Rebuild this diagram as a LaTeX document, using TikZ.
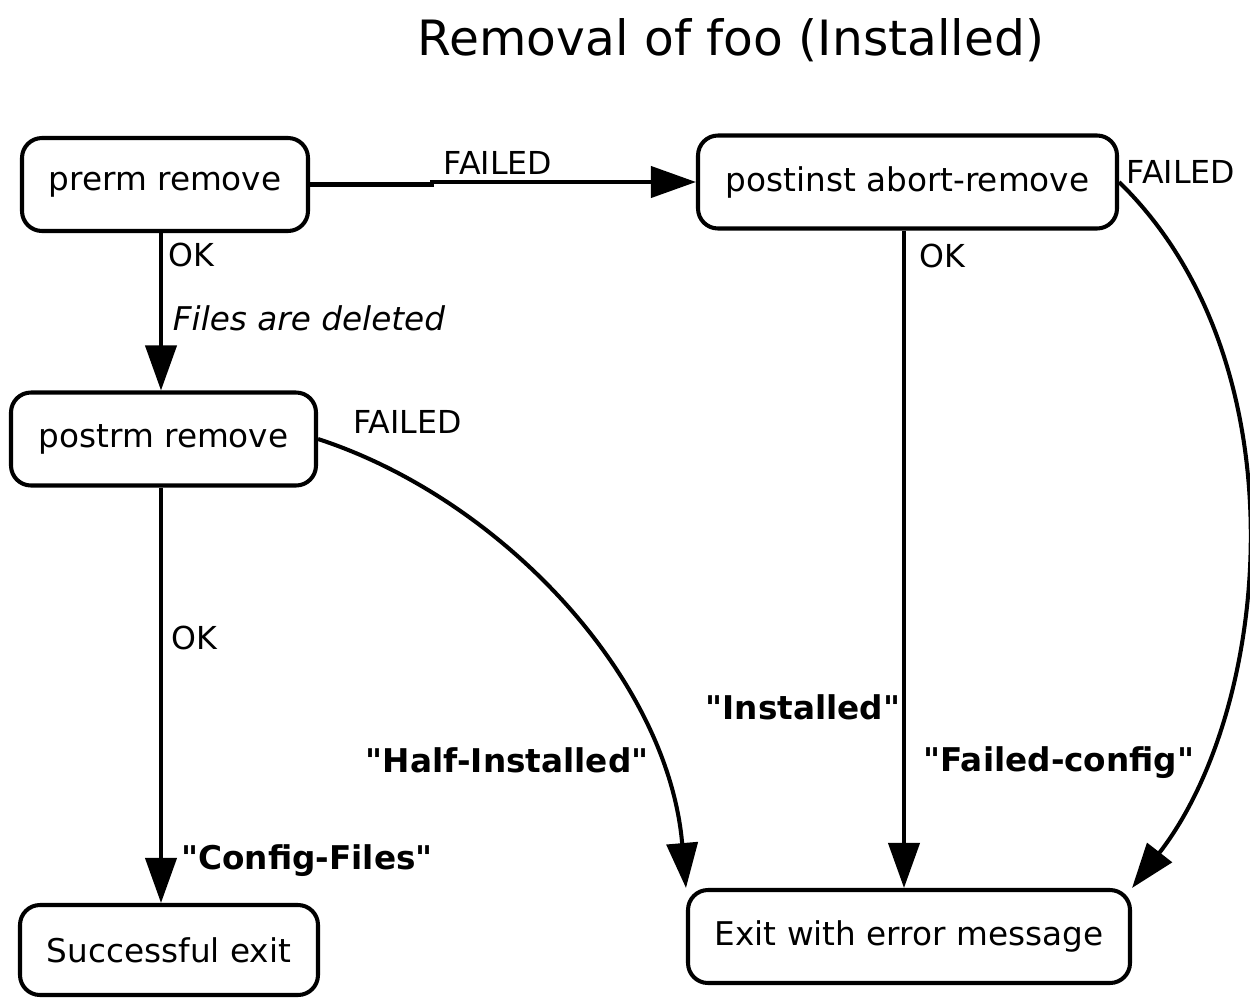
\documentclass[tikz,border=0pt]{standalone}
\usepackage{fontspec}
\setmainfont{DejaVu Sans}[Ligatures=TeXOff]
\usetikzlibrary{arrows.meta,positioning}

\begin{document}
\begin{tikzpicture}[
  state/.style={draw, line width=2.3pt, rounded corners=0.4cm, minimum height=1.86cm,
                font=\fontsize{18.6}{22}\selectfont},
  arr/.style={-{Triangle[length=0.9cm,width=0.62cm]}, line width=2.3pt},
  lbl/.style={font=\fontsize{18}{21}\selectfont},
  stlbl/.style={font=\fontsize{18.6}{22}\selectfont\bfseries}]
  \useasboundingbox (0,0) rectangle (25,-19.94);
  % Title
  \node[font=\fontsize{27.7}{33}\selectfont] (title) at (14.62,-0.8) {Removal of foo (Installed)};
  % States
  \node[state, minimum width=5.72cm] (pm) at (3.30,-3.69) {prerm remove};
  \node[state, minimum width=8.38cm] (pi) at (18.15,-3.64) {postinst abort-remove};
  \node[state, minimum width=6.10cm] (pr) at (3.27,-8.78) {postrm remove};
  \node[state, minimum width=5.96cm, minimum height=1.8cm] (sx) at (3.38,-19.0) {Successful exit};
  \node[state, minimum width=8.84cm] (ex) at (18.18,-18.73) {Exit with error message};
  % prerm remove
  \draw[arr] (pm.east) -- ++(2.44,0) |- (pi.west)
    node[pos=0.625, above, lbl] {FAILED};
  \draw[arr] ([xshift=-0.08cm]pm.south) -- ([xshift=-0.08cm]pm.south |- pr.north)
    node[pos=0.14, right, lbl] {OK}
    node[pos=0.54, right, xshift=0.08cm, lbl, font=\fontsize{18.6}{22}\selectfont\itshape] {Files are deleted};
  % postrm remove
  \draw[arr] ([xshift=-0.05cm]pr.south) -- ([xshift=-0.05cm]pr.south |- sx.north)
    node[pos=0.363, right, xshift=0.05cm, lbl] {OK}
    node[pos=0.897, right, xshift=0.25cm, stlbl] {"Config-Files"};
  \draw[arr] (pr.east) .. controls +(3.68,-1.2) and +(-0.36,4.2) .. (ex.north west)
    node[pos=0.05, anchor=south west, yshift=0.15cm, lbl] {FAILED}
    node[pos=0.79, anchor=east, stlbl] {"Half-Installed"};
  % postinst abort-remove
  \draw[arr] ([xshift=-0.07cm]pi.south) -- ([xshift=-0.07cm]pi.south |- ex.north)
    node[pos=0.038, right, xshift=0.15cm, lbl] {OK}
    node[pos=0.725, anchor=east, inner sep=1pt, stlbl] {"Installed"};
  \draw[arr] (pi.east) .. controls +(3.7,-3.6) and +(2.8,3.6) .. (ex.north east)
    node[pos=0, anchor=west, yshift=0.2cm, lbl] {FAILED}
    node[pos=0.8, anchor=east, stlbl] {"Failed-config"};
\end{tikzpicture}
\end{document}
